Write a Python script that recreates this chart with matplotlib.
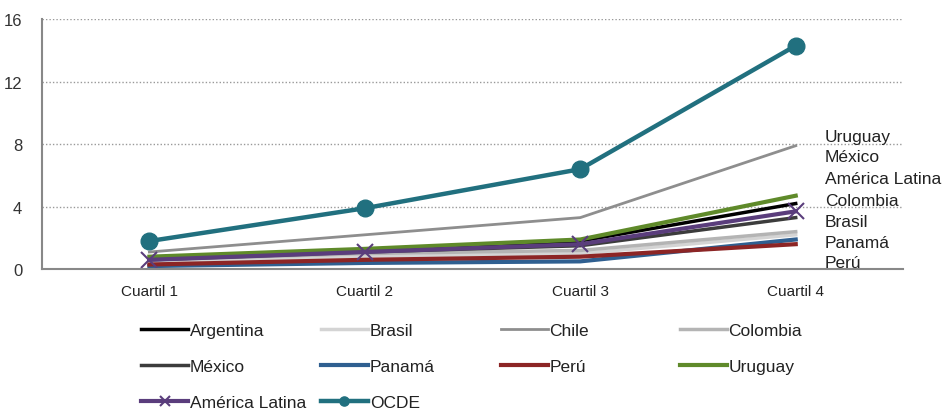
import matplotlib
matplotlib.use("Agg")
import matplotlib.pyplot as plt

plt.rcParams['font.family'] = ['Liberation Sans', 'DejaVu Sans']

cuartiles = ["Cuartil 1", "Cuartil 2", "Cuartil 3", "Cuartil 4"]

argentina = [0.7, 1.2, 1.8, 4.2]
brasil = [0.5, 0.8, 1.0, 2.2]
chile = [1.1, 2.2, 3.3, 7.9]
colombia = [0.6, 1.0, 1.2, 2.4]
mexico = [0.6, 1.1, 1.5, 3.3]
panama = [0.2, 0.4, 0.5, 1.9]
peru = [0.3, 0.6, 0.8, 1.6]
uruguay = [0.8, 1.3, 1.9, 4.7]
america_latina = [0.6, 1.1, 1.6, 3.7]
ocde = [1.8, 3.9, 6.4, 14.3]

etiquetas = ["Uruguay", "México", "América Latina", "Colombia", "Brasil", "Panamá", "Perú"]

fig = plt.figure(figsize=(9.47, 4.10), dpi=100)
ax = fig.add_axes([0.044, 0.341, 0.910, 0.610])

x = range(len(cuartiles))
ax.plot(x, brasil, color="#d4d4d4", lw=2.5, label="Brasil")
ax.plot(x, colombia, color="#b4b4b4", lw=2.5, label="Colombia")
ax.plot(x, chile, color="#8e8e8e", lw=2, label="Chile")
ax.plot(x, mexico, color="#3c3c3c", lw=2.5, label="México")
ax.plot(x, argentina, color="#000000", lw=2.5, label="Argentina")
ax.plot(x, panama, color="#2f5f90", lw=3, label="Panamá")
ax.plot(x, peru, color="#8c2525", lw=3, label="Perú")
ax.plot(x, uruguay, color="#5f8a2a", lw=3, label="Uruguay")
ax.plot(x, america_latina, color="#5a3d7c", lw=3, marker="x", ms=12, mew=1.5,
        label="América Latina")
ax.plot(x, ocde, color="#21707f", lw=3.2, marker="o", ms=12, label="OCDE")

ax.set_xlim(-0.5, 3.5)
ax.set_ylim(0, 16)
ax.set_yticks([0, 4, 8, 12, 16])
ax.set_xticks(list(x))
ax.set_xticklabels(cuartiles, fontsize=11)
ax.tick_params(axis="y", labelsize=12, length=0, pad=14, colors="#333333")
ax.tick_params(axis="x", length=0, pad=11, colors="#222222")
ax.yaxis.grid(True, linestyle=(0, (1, 1.5)), color="#999999", lw=1)
ax.set_axisbelow(True)
for s in ["top", "right"]:
    ax.spines[s].set_visible(False)
for s in ["left", "bottom"]:
    ax.spines[s].set_color("#888888")
    ax.spines[s].set_linewidth(1.5)

ys = [0.532, 0.452, 0.362, 0.276, 0.192, 0.108, 0.026]
for nombre, yy in zip(etiquetas, ys):
    ax.text(0.909, yy, nombre, transform=ax.transAxes, fontsize=12.5,
            va="center", ha="left", color="#222222", clip_on=False)

# leyenda en cuatro columnas de ancho fijo
columnas = [["Argentina", "México", "América Latina"],
            ["Brasil", "Panamá", "OCDE"],
            ["Chile", "Perú"],
            ["Colombia", "Uruguay"]]
x_col = [0.149, 0.339, 0.529, 0.718]
h, l = ax.get_legend_handles_labels()
d = dict(zip(l, h))
for col, xc in zip(columnas, x_col):
    leg = fig.legend([d[k] for k in col], col, loc="upper left",
                     bbox_to_anchor=(xc, 0.210), frameon=False, fontsize=12.5,
                     handlelength=2.7, handletextpad=0.1, borderpad=0,
                     borderaxespad=0, labelspacing=1.2, markerscale=0.55)
    for t in leg.get_texts():
        t.set_color("#222222")

fig.savefig("out.png", dpi=100)
